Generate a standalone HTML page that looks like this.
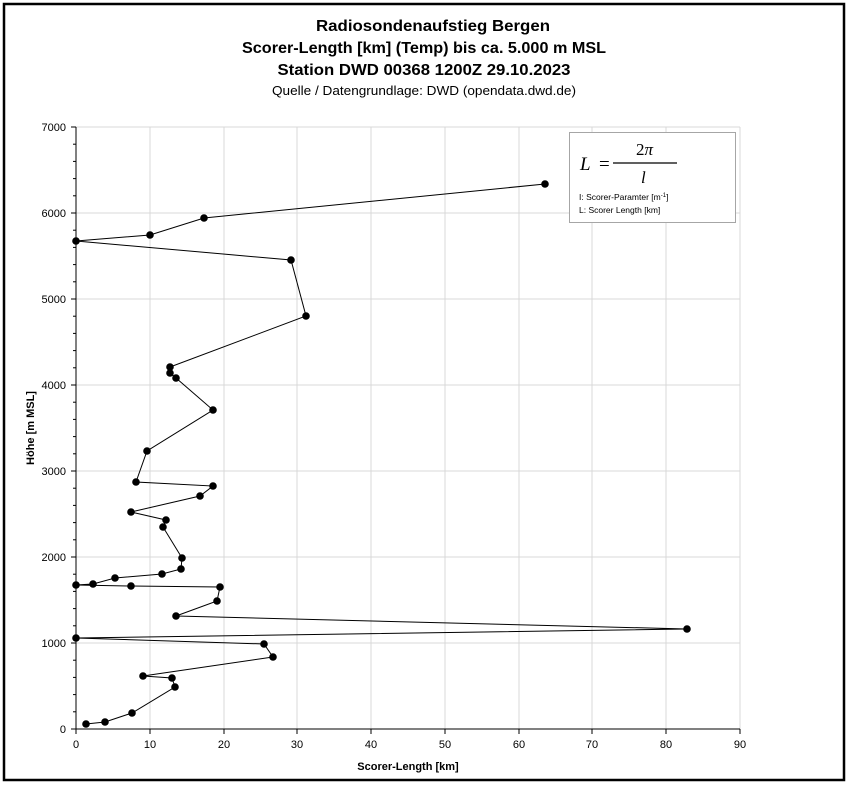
<!DOCTYPE html>
<html><head><meta charset="utf-8"><style>
html,body{margin:0;padding:0;background:#fff;}
svg{display:block;font-family:"Liberation Sans",sans-serif;}
</style></head><body>
<svg width="848" height="786" viewBox="0 0 848 786" xmlns="http://www.w3.org/2000/svg">
<rect x="0" y="0" width="848" height="786" fill="#fff"/>
<rect x="4" y="4" width="840" height="776" fill="#fff" stroke="#000" stroke-width="2.5"/>
<g font-weight="bold" font-size="16" text-anchor="middle" fill="#000">
<text x="433" y="31" textLength="234" lengthAdjust="spacingAndGlyphs">Radiosondenaufstieg Bergen</text>
<text x="424" y="53" textLength="364" lengthAdjust="spacingAndGlyphs">Scorer-Length [km] (Temp) bis ca. 5.000 m MSL</text>
<text x="424" y="75" textLength="293" lengthAdjust="spacingAndGlyphs">Station DWD 00368 1200Z 29.10.2023</text>
</g>
<text x="424" y="95" font-size="13" text-anchor="middle" textLength="304" lengthAdjust="spacingAndGlyphs">Quelle / Datengrundlage: DWD (opendata.dwd.de)</text>
<g stroke="#d9d9d9" stroke-width="1">
<line x1="150" y1="127" x2="150" y2="729"/><line x1="224" y1="127" x2="224" y2="729"/>
<line x1="297" y1="127" x2="297" y2="729"/><line x1="371" y1="127" x2="371" y2="729"/>
<line x1="445" y1="127" x2="445" y2="729"/><line x1="519" y1="127" x2="519" y2="729"/>
<line x1="592" y1="127" x2="592" y2="729"/><line x1="666" y1="127" x2="666" y2="729"/>
<line x1="740" y1="127" x2="740" y2="729"/>
<line x1="76" y1="127" x2="740" y2="127"/><line x1="76" y1="213" x2="740" y2="213"/>
<line x1="76" y1="299" x2="740" y2="299"/><line x1="76" y1="385" x2="740" y2="385"/>
<line x1="76" y1="471" x2="740" y2="471"/><line x1="76" y1="557" x2="740" y2="557"/>
<line x1="76" y1="643" x2="740" y2="643"/>
</g>
<g stroke="#000" stroke-width="1">
<line x1="76" y1="127" x2="76" y2="729"/><line x1="76" y1="729" x2="740" y2="729"/>
<line x1="71" y1="127" x2="76" y2="127"/><line x1="71" y1="213" x2="76" y2="213"/>
<line x1="71" y1="299" x2="76" y2="299"/><line x1="71" y1="385" x2="76" y2="385"/>
<line x1="71" y1="471" x2="76" y2="471"/><line x1="71" y1="557" x2="76" y2="557"/>
<line x1="71" y1="643" x2="76" y2="643"/><line x1="71" y1="729" x2="76" y2="729"/>
<line x1="76" y1="729" x2="76" y2="734"/><line x1="150" y1="729" x2="150" y2="734"/>
<line x1="224" y1="729" x2="224" y2="734"/><line x1="297" y1="729" x2="297" y2="734"/>
<line x1="371" y1="729" x2="371" y2="734"/><line x1="445" y1="729" x2="445" y2="734"/>
<line x1="519" y1="729" x2="519" y2="734"/><line x1="592" y1="729" x2="592" y2="734"/>
<line x1="666" y1="729" x2="666" y2="734"/><line x1="740" y1="729" x2="740" y2="734"/>
</g>
<g stroke="#000" stroke-width="1">
<line x1="73" y1="144.2" x2="76" y2="144.2"/><line x1="73" y1="161.4" x2="76" y2="161.4"/><line x1="73" y1="178.6" x2="76" y2="178.6"/><line x1="73" y1="195.8" x2="76" y2="195.8"/>
<line x1="73" y1="230.2" x2="76" y2="230.2"/><line x1="73" y1="247.4" x2="76" y2="247.4"/><line x1="73" y1="264.6" x2="76" y2="264.6"/><line x1="73" y1="281.8" x2="76" y2="281.8"/>
<line x1="73" y1="316.2" x2="76" y2="316.2"/><line x1="73" y1="333.4" x2="76" y2="333.4"/><line x1="73" y1="350.6" x2="76" y2="350.6"/><line x1="73" y1="367.8" x2="76" y2="367.8"/>
<line x1="73" y1="402.2" x2="76" y2="402.2"/><line x1="73" y1="419.4" x2="76" y2="419.4"/><line x1="73" y1="436.6" x2="76" y2="436.6"/><line x1="73" y1="453.8" x2="76" y2="453.8"/>
<line x1="73" y1="488.2" x2="76" y2="488.2"/><line x1="73" y1="505.4" x2="76" y2="505.4"/><line x1="73" y1="522.6" x2="76" y2="522.6"/><line x1="73" y1="539.8" x2="76" y2="539.8"/>
<line x1="73" y1="574.2" x2="76" y2="574.2"/><line x1="73" y1="591.4" x2="76" y2="591.4"/><line x1="73" y1="608.6" x2="76" y2="608.6"/><line x1="73" y1="625.8" x2="76" y2="625.8"/>
<line x1="73" y1="660.2" x2="76" y2="660.2"/><line x1="73" y1="677.4" x2="76" y2="677.4"/><line x1="73" y1="694.6" x2="76" y2="694.6"/><line x1="73" y1="711.8" x2="76" y2="711.8"/>
</g>
<g font-size="11" fill="#000" text-anchor="end">
<text x="66" y="131">7000</text><text x="66" y="217">6000</text><text x="66" y="303">5000</text>
<text x="66" y="389">4000</text><text x="66" y="475">3000</text><text x="66" y="561">2000</text>
<text x="66" y="647">1000</text><text x="66" y="733">0</text>
</g>
<g font-size="11" fill="#000" text-anchor="middle">
<text x="76" y="748">0</text><text x="150" y="748">10</text><text x="224" y="748">20</text>
<text x="297" y="748">30</text><text x="371" y="748">40</text><text x="445" y="748">50</text>
<text x="519" y="748">60</text><text x="592" y="748">70</text><text x="666" y="748">80</text>
<text x="740" y="748">90</text>
</g>
<text x="408" y="770" font-size="11" font-weight="bold" text-anchor="middle">Scorer-Length [km]</text>
<text transform="translate(34,428) rotate(-90)" font-size="11" font-weight="bold" text-anchor="middle">Höhe [m MSL]</text>
<polyline fill="none" stroke="#000" stroke-width="1" points="86,724 105,722 132,713 175,687 172,678 143,676 273,657 264,644 76,638 687,629 176,616 217,601 220,587 131,586 76,585 93,584 115,578 162,574 181,569 182,558 163,527 166,520 131,512 200,496 213,486 136,482 147,451 213,410 176,378 170,373 170,367 306,316 291,260 76,241 150,235 204,218 545,184"/>
<g fill="#000">
<circle cx="86" cy="724" r="3.8"/><circle cx="105" cy="722" r="3.8"/><circle cx="132" cy="713" r="3.8"/>
<circle cx="175" cy="687" r="3.8"/><circle cx="172" cy="678" r="3.8"/><circle cx="143" cy="676" r="3.8"/>
<circle cx="273" cy="657" r="3.8"/><circle cx="264" cy="644" r="3.8"/><circle cx="76" cy="638" r="3.8"/>
<circle cx="687" cy="629" r="3.8"/><circle cx="176" cy="616" r="3.8"/><circle cx="217" cy="601" r="3.8"/>
<circle cx="220" cy="587" r="3.8"/><circle cx="131" cy="586" r="3.8"/><circle cx="76" cy="585" r="3.8"/>
<circle cx="93" cy="584" r="3.8"/><circle cx="115" cy="578" r="3.8"/><circle cx="162" cy="574" r="3.8"/>
<circle cx="181" cy="569" r="3.8"/><circle cx="182" cy="558" r="3.8"/><circle cx="163" cy="527" r="3.8"/>
<circle cx="166" cy="520" r="3.8"/><circle cx="131" cy="512" r="3.8"/><circle cx="200" cy="496" r="3.8"/>
<circle cx="213" cy="486" r="3.8"/><circle cx="136" cy="482" r="3.8"/><circle cx="147" cy="451" r="3.8"/>
<circle cx="213" cy="410" r="3.8"/><circle cx="176" cy="378" r="3.8"/><circle cx="170" cy="373" r="3.8"/>
<circle cx="170" cy="367" r="3.8"/><circle cx="306" cy="316" r="3.8"/><circle cx="291" cy="260" r="3.8"/>
<circle cx="76" cy="241" r="3.8"/><circle cx="150" cy="235" r="3.8"/><circle cx="204" cy="218" r="3.8"/>
<circle cx="545" cy="184" r="3.8"/>
</g>
<rect x="569.5" y="132.5" width="166" height="90" fill="#fff" stroke="#a6a6a6" stroke-width="1"/>
<g font-family="'Liberation Serif',serif" font-style="italic" fill="#000">
<text x="580" y="170" font-size="19">L</text>
<text x="599" y="170" font-size="19" font-style="normal">=</text>
<text x="636" y="155" font-size="17" font-style="normal">2<tspan font-style="italic">π</tspan></text>
<text x="641" y="183" font-size="17">l</text>
</g>
<line x1="613" y1="163" x2="677" y2="163" stroke="#000" stroke-width="1.2"/>
<text x="579" y="200" font-size="8.5">I: Scorer-Paramter [m<tspan font-size="6" dy="-3">-1</tspan><tspan dy="3">]</tspan></text>
<text x="579" y="213" font-size="8.5">L: Scorer Length [km]</text>
</svg>
</body></html>
